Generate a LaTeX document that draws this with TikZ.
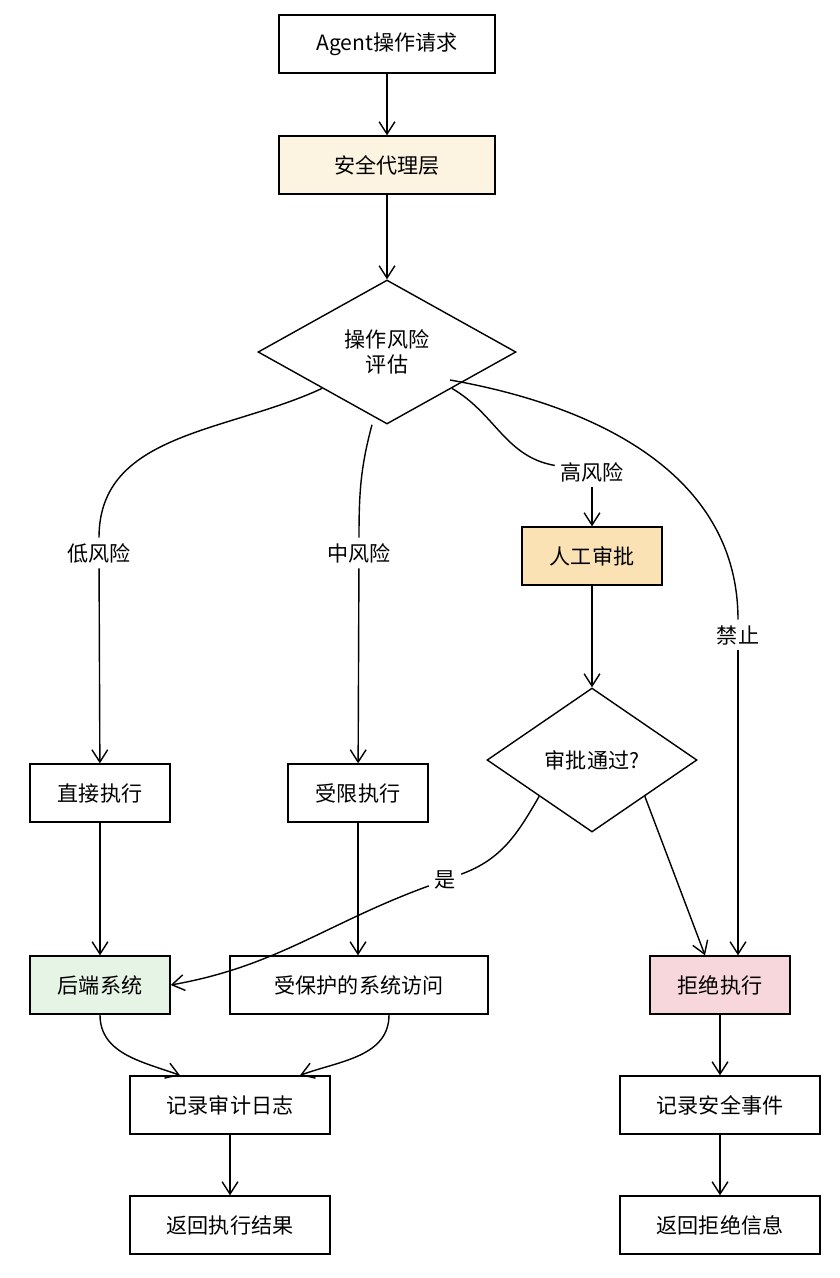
\documentclass[tikz,border=0pt]{standalone}
\usepackage{fontspec}
\setmainfont{Noto Sans CJK SC}
\usetikzlibrary{positioning, arrows.meta, shapes.geometric}

\definecolor{cream}{HTML}{FDF3E1}
\definecolor{amber}{HTML}{FBE2B5}
\definecolor{mint}{HTML}{E6F4E6}
\definecolor{rose}{HTML}{F8D7DC}

\tikzset{
  box/.style={draw=black, thick, minimum width=4.32cm, minimum height=1.16cm, font=\large},
  sbox/.style={box, minimum width=2.8cm},
  choice/.style={diamond, draw=black, thick, aspect=1.8, inner sep=1pt, align=center, font=\large},
  lbl/.style={fill=white, inner sep=3pt, font=\large},
  arr/.style={-{Straight Barb[length=7pt,width=9pt]}, thick},
  link/.style={thick}
}

\begin{document}
\begin{tikzpicture}
  \useasboundingbox (0,0) rectangle (16.8,-25.56);

  \node[box] (req) at (7.74, -0.88) {\textit{Agent}操作请求};
  \node[box, fill=cream] (proxy) at (7.74, -3.3) {安全代理层};
  \node[choice, minimum width=5.16cm, minimum height=2.88cm] (risk) at (7.74, -7.04) {操作风险\\评估};

  \node[lbl] (low) at (1.98, -11.06) {低风险};
  \node[lbl] (mid) at (7.18, -11.06) {中风险};
  \node[lbl] (high) at (11.84, -9.44) {高风险};
  \node[lbl] (ban) at (14.76, -12.7) {禁止};

  \node[sbox, fill=amber] (manual) at (11.84, -11.12) {人工审批};
  \node[choice, minimum width=4.2cm, minimum height=2.88cm] (ok) at (11.84, -15.2) {审批通过?};

  \node[sbox] (direct) at (2.0, -15.86) {直接执行};
  \node[sbox] (limit) at (7.16, -15.86) {受限执行};

  \node[sbox, fill=mint] (backend) at (2.0, -19.7) {后端系统};
  \node[box, minimum width=5.16cm] (guard) at (7.18, -19.7) {受保护的系统访问};
  \node[sbox, fill=rose] (deny) at (14.4, -19.7) {拒绝执行};

  \node[box, minimum width=4cm] (audit) at (4.6, -22.1) {记录审计日志};
  \node[box, minimum width=4cm] (result) at (4.6, -24.5) {返回执行结果};
  \node[box, minimum width=4cm] (event) at (14.4, -22.1) {记录安全事件};
  \node[box, minimum width=4cm] (reject) at (14.4, -24.5) {返回拒绝信息};

  \node[lbl] (yes) at (8.9, -17.6) {是};

  % main flow
  \draw[arr] (req) -- (proxy);
  \draw[arr] (proxy) -- (risk);

  % risk branches
  \draw[link] (risk.south west) to[out=-155, in=90] (low);
  \draw[arr] (low) -- (direct);
  \draw[link] (risk.south) ++(-0.3,0) coordinate (rm) (rm) to[out=-105, in=90] (mid);
  \draw[arr] (mid) -- (limit);
  \draw[link] (risk.south east) to[out=-30, in=170] (high);
  \draw[arr] (high) -- (manual);
  \coordinate (re) at (9.0, -7.6);
  \draw[link] (re) to[out=-10, in=90] (ban);
  \draw[arr] (ban) -- (deny.north east -| ban);

  % approval
  \draw[arr] (manual) -- (ok);
  \draw[link] (ok.south west) to[out=-120, in=20] (yes);
  \draw[arr] (yes) to[out=-160, in=10] (backend.east);
  \draw[arr] (ok.south east) -- ([xshift=-0.3cm]deny.north);

  % execution
  \draw[arr] (direct) -- (backend);
  \draw[arr] (limit) -- (limit |- guard.north);
  \draw[arr] (backend.south) to[out=-90, in=160] ([xshift=-1cm]audit.north);
  \draw[arr] ([xshift=0.6cm]guard.south) to[out=-90, in=20] ([xshift=1.4cm]audit.north);
  \draw[arr] (audit) -- (result);

  % denial
  \draw[arr] (deny) -- (event);
  \draw[arr] (event) -- (reject);
\end{tikzpicture}
\end{document}
